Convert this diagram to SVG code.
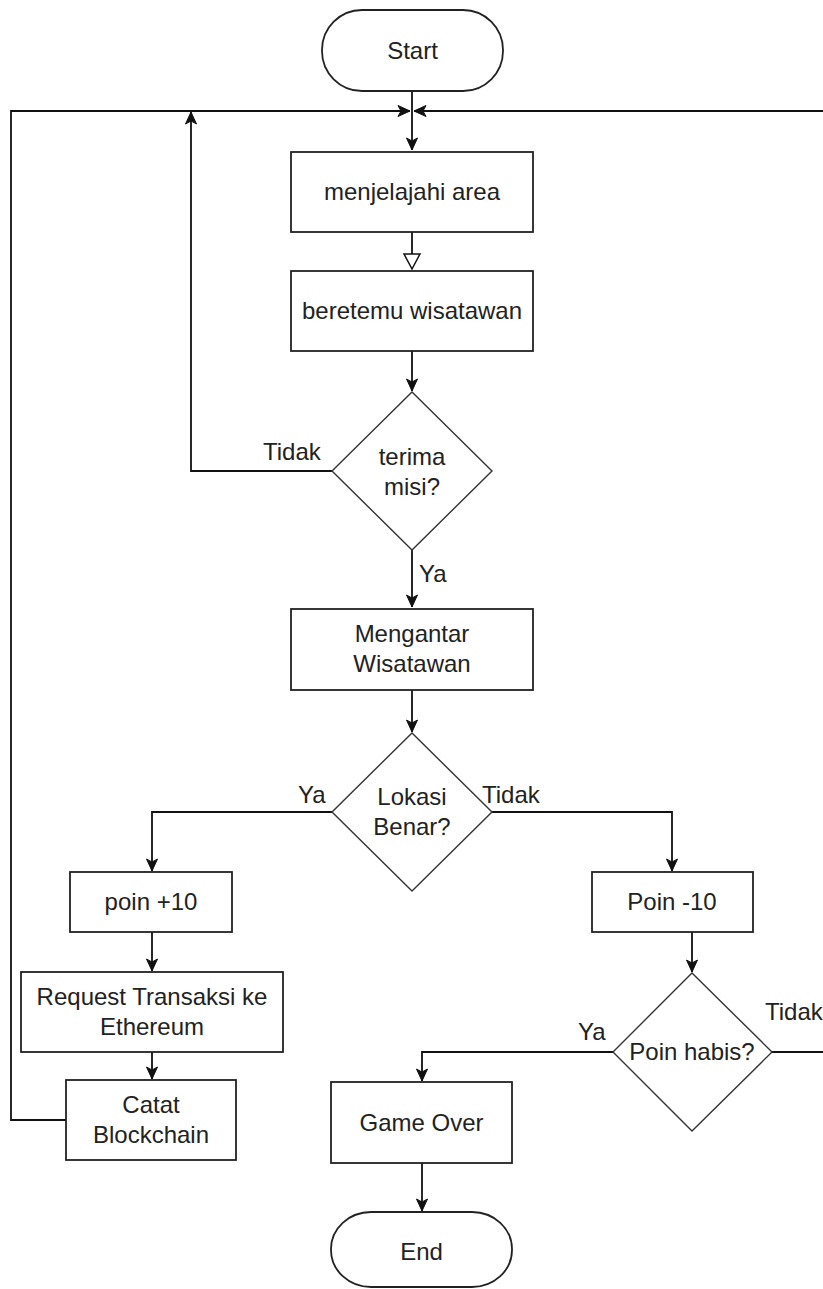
<svg xmlns="http://www.w3.org/2000/svg" width="823" height="1289" viewBox="0 0 823 1289">
<defs>
<marker id="arr" markerUnits="userSpaceOnUse" markerWidth="14" markerHeight="14" viewBox="0 0 14 14" refX="13" refY="7" orient="auto">
<path d="M1,1.5 L13,7 L1,12.5 L4,7 z" fill="#111" stroke="#111" stroke-width="1"/>
</marker>
<marker id="open" markerUnits="userSpaceOnUse" markerWidth="20" markerHeight="20" viewBox="0 0 20 20" refX="17" refY="10" orient="auto">
<path d="M2,2 L17,10 L2,18 z" fill="#fff" stroke="#111" stroke-width="1.5"/>
</marker>
</defs>
<style>
.box{fill:#fff;stroke:#222;stroke-width:1.8}
.dia{fill:#fff;stroke:#333;stroke-width:1.4}
.t{font-family:"Liberation Sans",Arial,sans-serif;font-size:24px;fill:#222;text-anchor:middle}
.lbl{font-family:"Liberation Sans",Arial,sans-serif;font-size:24px;fill:#222}
.c{fill:none;stroke:#111;stroke-width:1.8}
</style>
<g id="connectors">
<path class="c" d="M412,91 V150" marker-end="url(#arr)"/>
<path class="c" d="M66,1120 H11 V111 H410" marker-end="url(#arr)"/>
<path class="c" d="M772,1052 H828 V111 H414" marker-end="url(#arr)"/>
<path class="c" d="M412,232 V269" marker-end="url(#open)"/>
<path class="c" d="M412,351 V391" marker-end="url(#arr)"/>
<path class="c" d="M332,471 H191 V112" marker-end="url(#arr)"/>
<path class="c" d="M412,550 V607" marker-end="url(#arr)"/>
<path class="c" d="M412,690 V732" marker-end="url(#arr)"/>
<path class="c" d="M332,812 H152 V871" marker-end="url(#arr)"/>
<path class="c" d="M492,812 H672 V871" marker-end="url(#arr)"/>
<path class="c" d="M152,932 V971" marker-end="url(#arr)"/>
<path class="c" d="M152,1052 V1079" marker-end="url(#arr)"/>
<path class="c" d="M692,932 V972" marker-end="url(#arr)"/>
<path class="c" d="M613,1052 H422 V1081" marker-end="url(#arr)"/>
<path class="c" d="M422,1163 V1211" marker-end="url(#arr)"/>
<text class="lbl" x="263" y="460">Tidak</text>
<text class="lbl" x="419" y="582">Ya</text>
<text class="lbl" x="298" y="803">Ya</text>
<text class="lbl" x="482" y="803">Tidak</text>
<text class="lbl" x="578" y="1040">Ya</text>
<text class="lbl" x="765" y="1020">Tidak</text>
</g>
<g id="start"><rect class="box" x="322" y="10" width="181" height="81" rx="40" ry="40"/><text class="t" x="412.5" y="59">Start</text></g>
<g id="menjelajahi"><rect class="box" x="291" y="152" width="242" height="80"/><text class="t" x="412" y="200">menjelajahi area</text></g>
<g id="beretemu"><rect class="box" x="291" y="271" width="242" height="80"/><text class="t" x="412" y="319">beretemu wisatawan</text></g>
<g id="terima"><polygon class="dia" points="412,392 492,471 412,550 332,471"/><text class="t" x="412" y="465">terima</text><text class="t" x="412" y="495">misi?</text></g>
<g id="mengantar"><rect class="box" x="291" y="609" width="242" height="81"/><text class="t" x="412" y="642">Mengantar</text><text class="t" x="412" y="672">Wisatawan</text></g>
<g id="lokasi"><polygon class="dia" points="412,733 492,812 412,891 332,812"/><text class="t" x="412" y="805">Lokasi</text><text class="t" x="412" y="835">Benar?</text></g>
<g id="poinplus"><rect class="box" x="70" y="872" width="162" height="60"/><text class="t" x="151" y="910">poin +10</text></g>
<g id="poinminus"><rect class="box" x="592" y="872" width="161" height="60"/><text class="t" x="672" y="910">Poin -10</text></g>
<g id="request"><rect class="box" x="21" y="972" width="262" height="80"/><text class="t" x="152" y="1005">Request Transaksi ke</text><text class="t" x="152" y="1035">Ethereum</text></g>
<g id="catat"><rect class="box" x="66" y="1080" width="170" height="80"/><text class="t" x="151" y="1113">Catat</text><text class="t" x="151" y="1143">Blockchain</text></g>
<g id="poinhabis"><polygon class="dia" points="692,973 772,1052 692,1131 613,1052"/><text class="t" x="692" y="1060">Poin habis?</text></g>
<g id="gameover"><rect class="box" x="331" y="1082" width="181" height="81"/><text class="t" x="421.5" y="1131">Game Over</text></g>
<g id="end"><rect class="box" x="331" y="1212" width="181" height="75" rx="40" ry="37"/><text class="t" x="421.5" y="1260">End</text></g>
</svg>
